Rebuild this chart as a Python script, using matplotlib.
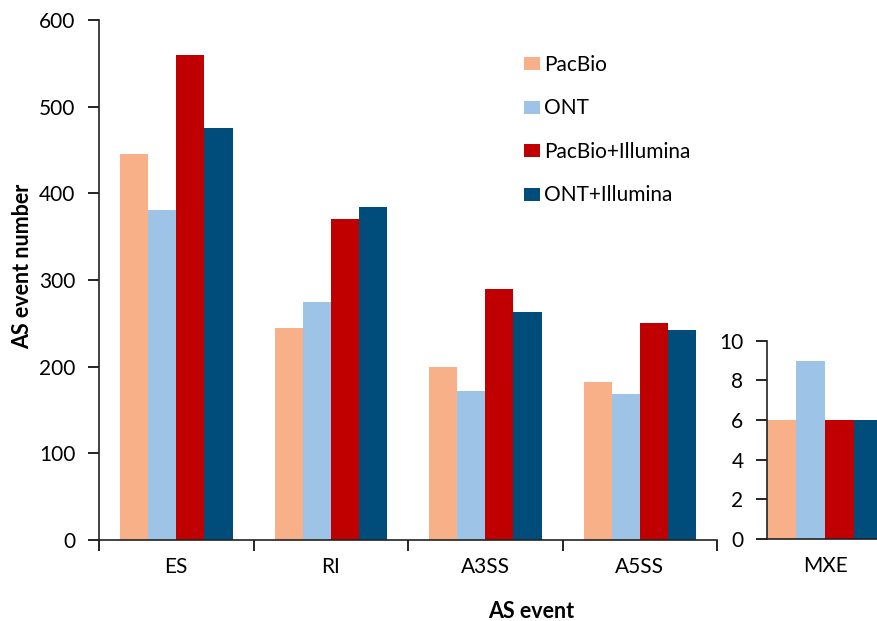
import matplotlib.pyplot as plt
import numpy as np

plt.rcParams['font.family'] = ['Lato', 'DejaVu Sans']

# data
events = ["ES", "RI", "A3SS", "A5SS"]
pacbio = [445, 245, 200, 182]
ont = [381, 275, 172, 168]
pacbio_ill = [560, 370, 290, 250]
ont_ill = [475, 384, 263, 242]

mxe_label = ["MXE"]
mxe_vals = [6, 9, 6, 6]

series = ["PacBio", "ONT", "PacBio+Illumina", "ONT+Illumina"]
colors = ["#F8B088", "#9DC3E6", "#C00000", "#004C7A"]

fig = plt.figure(figsize=(8.77, 6.21), dpi=100)

# main panel
ax = fig.add_axes([0.1129, 0.1304, 0.7047, 0.8374])
x = np.arange(len(events))
w = 0.182
for i, vals in enumerate([pacbio, ont, pacbio_ill, ont_ill]):
    ax.bar(x + (i - 1.5) * w, vals, w, color=colors[i], label=series[i])

ax.set_xlim(-0.5, len(events) - 0.5)
ax.set_ylim(0, 600)
ax.set_yticks(range(0, 601, 100))
ax.set_xticks(x)
ax.set_xticklabels(events)
ax.set_xticks(np.arange(-0.5, len(events)), minor=True)
ax.tick_params(axis='x', which='major', length=0, pad=12, labelsize=15)
ax.tick_params(axis='x', which='minor', length=8, width=1.2, direction='out')
ax.tick_params(axis='y', length=8, width=1.2, labelsize=15, pad=9)
for s in ['top', 'right']:
    ax.spines[s].set_visible(False)
for s in ['left', 'bottom']:
    ax.spines[s].set_linewidth(1.2)
    ax.spines[s].set_color('#222222')
ax.set_ylabel("AS event number", fontsize=15.5, fontweight='bold')
ax.yaxis.set_label_coords(-0.107, 0.527)
ax.set_xlabel("AS event", fontsize=15.5, fontweight='bold')
ax.xaxis.set_label_coords(0.70, -0.117)

ax.legend(loc='upper left', bbox_to_anchor=(0.687, 0.933), frameon=False,
          fontsize=15, handlelength=0.77, handleheight=0.58,
          handletextpad=0.2, labelspacing=1.13, borderpad=0,
          borderaxespad=0)

# MXE panel on its own scale
ax2 = fig.add_axes([0.8746, 0.1320, 0.1323, 0.3194])
w2 = 0.25
for i, v in enumerate(mxe_vals):
    ax2.bar((i - 1.5) * w2, v, w2, color=colors[i])
ax2.set_xlim(-0.5, 0.5)
ax2.set_ylim(0, 10)
ax2.set_yticks(range(0, 11, 2))
ax2.set_xticks([0])
ax2.set_xticklabels(mxe_label)
ax2.tick_params(axis='x', length=0, pad=12, labelsize=15)
ax2.tick_params(axis='y', length=8, width=1.2, labelsize=15, pad=9)
for s in ['top', 'right']:
    ax2.spines[s].set_visible(False)
for s in ['left', 'bottom']:
    ax2.spines[s].set_linewidth(1.2)
    ax2.spines[s].set_color('#222222')

fig.savefig("out.png", dpi=100)
